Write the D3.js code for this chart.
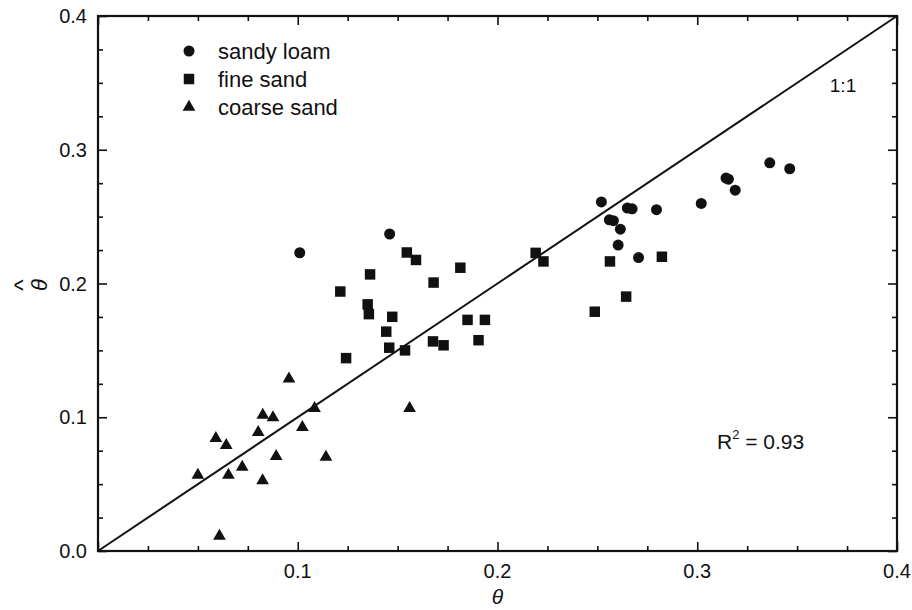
<!DOCTYPE html>
<html>
<head>
<meta charset="utf-8">
<script src="https://cdn.jsdelivr.net/npm/d3@7"></script>
<style>
  body { margin: 0; background: #fff; }
  text { font-family: "Liberation Sans", Arial, sans-serif; fill: #111; }
</style>
</head>
<body>
<svg id="chart" width="912" height="610"></svg>
<script>
/* measured vs. estimated water content */
var sandyLoamX = [0.101, 0.146, 0.252, 0.256, 0.258, 0.2615, 0.2604, 0.265, 0.2674, 0.2706, 0.2796, 0.302, 0.3144, 0.3156, 0.319, 0.3363, 0.3463];
var sandyLoamY = [0.223, 0.237, 0.261, 0.2476, 0.247, 0.2406, 0.2287, 0.2564, 0.2558, 0.2194, 0.2552, 0.2599, 0.2788, 0.278, 0.2698, 0.2902, 0.2858];

var fineSandX = [0.1213, 0.1242, 0.1362, 0.135, 0.1356, 0.1473, 0.1443, 0.1458, 0.1546, 0.1592, 0.1537, 0.168, 0.1677, 0.173, 0.1814, 0.185, 0.1937, 0.1905, 0.2191, 0.223, 0.2487, 0.2563, 0.2644, 0.2823];
var fineSandY = [0.194, 0.1442, 0.2068, 0.1844, 0.1771, 0.1751, 0.164, 0.152, 0.2232, 0.2176, 0.150, 0.2007, 0.1567, 0.1538, 0.2118, 0.1728, 0.1728, 0.1576, 0.2229, 0.2165, 0.1789, 0.2165, 0.1902, 0.220];

var coarseSandX = [0.050, 0.059, 0.0642, 0.0653, 0.0608, 0.0722, 0.0802, 0.0825, 0.0824, 0.0876, 0.0892, 0.0956, 0.1023, 0.1084, 0.1141, 0.156];
var coarseSandY = [0.0568, 0.0843, 0.079, 0.0568, 0.0112, 0.0628, 0.0887, 0.1017, 0.0526, 0.0997, 0.0708, 0.1288, 0.0925, 0.1067, 0.0703, 0.1067];

var seriesNames = ["sandy loam", "fine sand", "coarse sand"];
var majorTicks = [0, 0.1, 0.2, 0.3, 0.4];
var minorTicks = [0.025, 0.05, 0.075, 0.125, 0.15, 0.175, 0.225, 0.25, 0.275, 0.325, 0.35, 0.375];
var oneToOne = [0, 0.4];

var svg = d3.select("#chart");

var x = d3.scaleLinear().domain([0, 0.4]).range([98, 897]);
var y = d3.scaleLinear().domain([0, 0.4]).range([551, 16]);

function pairs(xs, ys) {
    return xs.map(function(v, i) { return [v, ys[i]]; });
}

// ticks, inward on all four sides
function tickAxes(vals, len) {
    svg.append("g").attr("transform", "translate(0," + y(0) + ")")
        .call(d3.axisBottom(x).tickValues(vals).tickSize(-len).tickFormat(""));
    svg.append("g").attr("transform", "translate(0," + y(0.4) + ")")
        .call(d3.axisTop(x).tickValues(vals).tickSize(-len).tickFormat(""));
    svg.append("g").attr("transform", "translate(" + x(0) + ",0)")
        .call(d3.axisLeft(y).tickValues(vals).tickSize(-len).tickFormat(""));
    svg.append("g").attr("transform", "translate(" + x(0.4) + ",0)")
        .call(d3.axisRight(y).tickValues(vals).tickSize(-len).tickFormat(""));
}
tickAxes(majorTicks, 9);
tickAxes(minorTicks, 5);
svg.selectAll(".domain").remove();
svg.selectAll(".tick line").attr("stroke", "#111").attr("stroke-width", 1.6);

svg.append("rect")
    .attr("x", x(0)).attr("y", y(0.4))
    .attr("width", x(0.4) - x(0)).attr("height", y(0) - y(0.4))
    .attr("fill", "none").attr("stroke", "#111").attr("stroke-width", 2.2);

// tick labels
svg.append("g").selectAll("text")
    .data(majorTicks.slice(1))
    .enter().append("text")
    .attr("x", function(d) { return x(d); })
    .attr("y", y(0) + 27)
    .attr("text-anchor", "middle")
    .style("font-size", "20px")
    .text(function(d) { return d3.format(".1f")(d); });

svg.append("g").selectAll("text")
    .data(majorTicks)
    .enter().append("text")
    .attr("x", x(0) - 11)
    .attr("y", function(d) { return y(d) + 7; })
    .attr("text-anchor", "end")
    .style("font-size", "20px")
    .text(function(d) { return d3.format(".1f")(d); });

// axis titles
svg.append("text")
    .attr("x", x(0.2))
    .attr("y", 604)
    .attr("text-anchor", "middle")
    .style("font-size", "21px").style("font-style", "italic")
    .text("θ");

svg.append("text")
    .attr("transform", "translate(47,285) rotate(-90)")
    .attr("text-anchor", "middle")
    .style("font-size", "22px").style("font-style", "italic")
    .text("θ");
svg.append("text")
    .attr("transform", "translate(31,285) rotate(-90)")
    .attr("text-anchor", "middle")
    .style("font-size", "24px")
    .text("^");

// 1:1 line
svg.append("line")
    .attr("x1", x(oneToOne[0])).attr("y1", y(oneToOne[0]))
    .attr("x2", x(oneToOne[1])).attr("y2", y(oneToOne[1]))
    .attr("stroke", "#111").attr("stroke-width", 2);

svg.append("text")
    .attr("x", 843).attr("y", 92)
    .attr("text-anchor", "middle")
    .style("font-size", "19px")
    .text("1:1");

// R^2
var r2 = svg.append("text")
    .attr("x", 717).attr("y", 449)
    .style("font-size", "21px");
r2.append("tspan").text("R");
r2.append("tspan").attr("dy", -10).style("font-size", "13px").text("2");
r2.append("tspan").attr("dy", 10).text(" = 0.93");

// points
var circleSym = d3.symbol().type(d3.symbolCircle).size(95);
var squareSym = d3.symbol().type(d3.symbolSquare).size(110);
var triSym = d3.symbol().type(d3.symbolTriangle).size(70);

function drawSeries(data, sym) {
    svg.append("g").selectAll("path")
        .data(data)
        .enter().append("path")
        .attr("transform", function(d) { return "translate(" + x(d[0]) + "," + y(d[1]) + ")"; })
        .attr("d", sym)
        .attr("fill", "#111");
}
drawSeries(pairs(fineSandX, fineSandY), squareSym);
drawSeries(pairs(coarseSandX, coarseSandY), triSym);
drawSeries(pairs(sandyLoamX, sandyLoamY), circleSym);

// legend
var legSyms = [circleSym, squareSym, triSym];
var leg = svg.append("g").selectAll("g")
    .data(seriesNames)
    .enter().append("g")
    .attr("transform", function(d, i) { return "translate(189," + (51 + i * 28) + ")"; });
leg.append("path")
    .attr("d", function(d, i) { return legSyms[i](); })
    .attr("fill", "#111");
leg.append("text")
    .attr("x", 29).attr("y", 8)
    .style("font-size", "22px")
    .text(function(d) { return d; });
</script>
</body>
</html>
